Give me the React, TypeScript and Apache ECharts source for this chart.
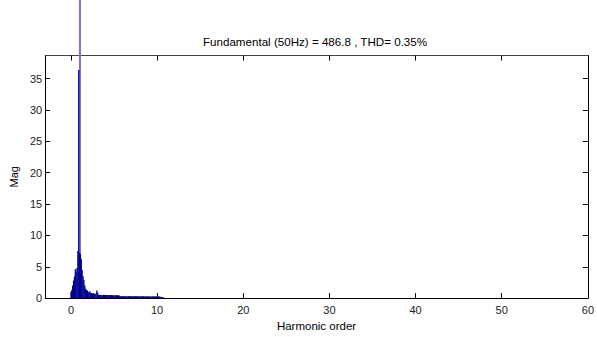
import React, { useEffect, useRef } from "react";
import * as echarts from "echarts";

const titleText = "Fundamental (50Hz) = 486.8 , THD= 0.35%";
const xAxisName = "Harmonic order";
const yAxisName = "Mag";

const xTicks = [0, 10, 20, 30, 40, 50, 60];
const yTicks = [0, 5, 10, 15, 20, 25, 30, 35];

// fundamental component (off scale)
const fundamentalOrder = 1;
const fundamentalMag = 486.8;

// spectrum, harmonic order 0.0 .. 10.8 step 0.1
const spectrumOrders = [
  0.0, 0.1, 0.2, 0.3, 0.4, 0.5, 0.6, 0.7, 0.8, 0.9,
  1.0, 1.1, 1.2, 1.3, 1.4, 1.5, 1.6, 1.7, 1.8, 1.9,
  2.0, 2.1, 2.2, 2.3, 2.4, 2.5, 2.6, 2.7, 2.8, 2.9,
  3.0, 3.1, 3.2, 3.3, 3.4, 3.5, 3.6, 3.7, 3.8, 3.9,
  4.0, 4.1, 4.2, 4.3, 4.4, 4.5, 4.6, 4.7, 4.8, 4.9,
  5.0, 5.1, 5.2, 5.3, 5.4, 5.5, 5.6, 5.7, 5.8, 5.9,
  6.0, 6.1, 6.2, 6.3, 6.4, 6.5, 6.6, 6.7, 6.8, 6.9,
  7.0, 7.1, 7.2, 7.3, 7.4, 7.5, 7.6, 7.7, 7.8, 7.9,
  8.0, 8.1, 8.2, 8.3, 8.4, 8.5, 8.6, 8.7, 8.8, 8.9,
  9.0, 9.1, 9.2, 9.3, 9.4, 9.5, 9.6, 9.7, 9.8, 9.9,
  10.0, 10.1, 10.2, 10.3, 10.4, 10.5, 10.6, 10.7, 10.8,
];
const spectrumMags = [
  1.0, 1.3, 2.0, 2.8, 3.4, 4.6, 4.2, 4.8, 7.5, 36.4,
  7.2, 7.0, 6.2, 4.5, 3.5, 2.9, 2.0, 1.5, 1.3, 1.2,
  1.0, 0.9, 1.1, 0.8, 0.8, 0.7, 0.8, 0.7, 0.7, 0.7,
  1.2, 0.9, 0.5, 0.55, 0.5, 0.5, 0.48, 0.5, 0.52, 0.5,
  0.5, 0.48, 0.5, 0.47, 0.5, 0.48, 0.46, 0.5, 0.47, 0.45,
  0.46, 0.45, 0.47, 0.44, 0.45, 0.44, 0.42, 0.32, 0.3, 0.3,
  0.31, 0.3, 0.29, 0.3, 0.3, 0.29, 0.3, 0.28, 0.3, 0.29,
  0.3, 0.28, 0.29, 0.3, 0.28, 0.29, 0.28, 0.3, 0.28, 0.27,
  0.28, 0.29, 0.28, 0.27, 0.28, 0.27, 0.28, 0.27, 0.28, 0.27,
  0.27, 0.28, 0.27, 0.26, 0.27, 0.28, 0.26, 0.27, 0.26, 0.27,
  0.3, 0.27, 0.26, 0.25, 0.12, 0.2, 0.1, 0.15, 0.05,
];

const FONT = "Liberation Sans, Arial, sans-serif";

export default function App() {
  const ref = useRef<HTMLDivElement>(null);
  useEffect(() => {
    if (!ref.current) return;
    const chart = echarts.init(ref.current, null, { renderer: "svg" });
    const axisLineStyle = { color: "#000", width: 1 };
    const labelStyle = { color: "#222", fontSize: 11, fontFamily: FONT };
    chart.setOption({
      animation: false,
      backgroundColor: "#fff",
      title: {
        text: titleText,
        left: 203,
        top: 35,
        padding: 0,
        textStyle: { fontSize: 11.6, fontWeight: "normal", color: "#000", fontFamily: FONT },
      },
      grid: { left: 41, right: 6, top: 55.5, bottom: 37, containLabel: false },
      xAxis: [
        {
          type: "value",
          min: -3,
          max: 60,
          position: "bottom",
          name: xAxisName,
          nameLocation: "middle",
          nameGap: 20,
          nameTextStyle: { fontSize: 11.5, color: "#000", fontFamily: FONT },
          axisLine: { show: true, onZero: false, lineStyle: axisLineStyle },
          axisTick: { show: true, inside: true, length: 5, customValues: xTicks, lineStyle: axisLineStyle },
          axisLabel: { customValues: xTicks, margin: 6, ...labelStyle },
          splitLine: { show: false },
        },
        {
          type: "value",
          min: -3,
          max: 60,
          position: "top",
          axisLine: { show: true, onZero: false, lineStyle: { color: "#444", width: 1 } },
          axisTick: { show: true, inside: true, length: 5, customValues: xTicks, lineStyle: axisLineStyle },
          axisLabel: { show: false },
          splitLine: { show: false },
        },
      ],
      yAxis: [
        {
          type: "value",
          min: 0,
          max: 38.7,
          position: "left",
          name: yAxisName,
          nameLocation: "middle",
          nameGap: 21,
          nameTextStyle: { fontSize: 11, color: "#000", fontFamily: FONT },
          axisLine: { show: true, onZero: false, lineStyle: axisLineStyle },
          axisTick: { show: true, inside: true, length: 5, customValues: yTicks, lineStyle: axisLineStyle },
          axisLabel: { customValues: yTicks, margin: 3, ...labelStyle },
          splitLine: { show: false },
        },
        {
          type: "value",
          min: 0,
          max: 38.7,
          position: "right",
          axisLine: { show: true, onZero: false, lineStyle: axisLineStyle },
          axisTick: { show: true, inside: true, length: 5, customValues: yTicks, lineStyle: axisLineStyle },
          axisLabel: { show: false },
          splitLine: { show: false },
        },
      ],
      series: [
        {
          type: "bar",
          name: "fundamental",
          xAxisIndex: 0,
          yAxisIndex: 0,
          clip: false,
          barWidth: 2,
          z: 1,
          itemStyle: { color: "#7474d4" },
          data: [[fundamentalOrder, fundamentalMag]],
        },
        {
          type: "bar",
          name: "spectrum",
          xAxisIndex: 0,
          yAxisIndex: 0,
          clip: true,
          barWidth: 1.3,
          barGap: "-100%",
          z: 2,
          itemStyle: { color: "#000090" },
          data: spectrumOrders.map((o, i) => [o, spectrumMags[i]]),
        },
      ],
    });
    return () => chart.dispose();
  }, []);
  return <div ref={ref} style={{ width: 597, height: 337, position: "absolute", left: 0, top: 0 }} />;
}
